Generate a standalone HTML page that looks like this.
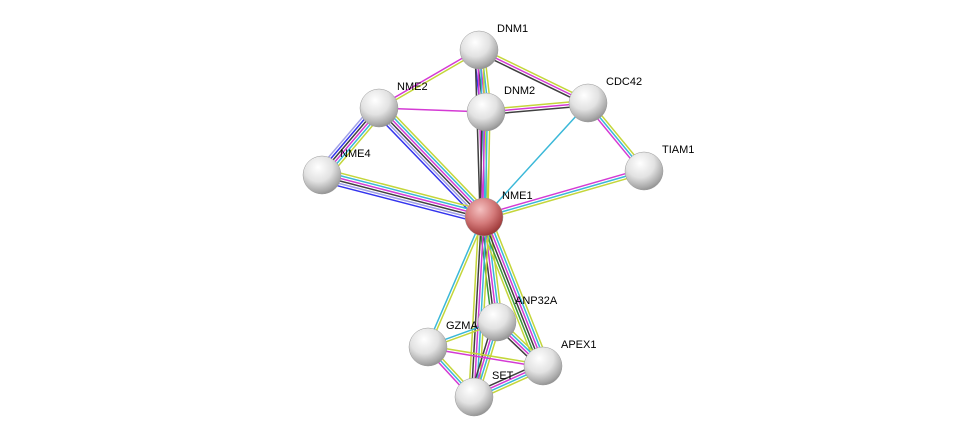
<!DOCTYPE html>
<html><head><meta charset="utf-8"><style>
html,body{margin:0;padding:0;background:#fff;}
svg{display:block;}
text{font-family:"Liberation Sans",sans-serif;font-size:11px;fill:#000;}
</style></head><body>
<svg id="s" width="975" height="443" xmlns="http://www.w3.org/2000/svg">
<defs>
<radialGradient id="g" cx="40%" cy="30%" r="75%">
<stop offset="0" stop-color="#ffffff"/><stop offset="0.5" stop-color="#e2e2e2"/><stop offset="0.85" stop-color="#a8a8a8"/><stop offset="1" stop-color="#888"/>
</radialGradient>
<radialGradient id="r" cx="40%" cy="30%" r="75%">
<stop offset="0" stop-color="#f4c0c0"/><stop offset="0.5" stop-color="#d47a7a"/><stop offset="0.85" stop-color="#a84444"/><stop offset="1" stop-color="#8a3030"/>
</radialGradient>
</defs>
<g id="e"></g><g id="n"></g>
</svg>
<script>
const N={DNM1:[479,50],DNM2:[486,112],CDC42:[588,103],NME2:[379,108],NME4:[322,175],TIAM1:[644,171],NME1:[484,217],ANP32A:[497,322],GZMA:[428,347],APEX1:[543,366],SET:[474,397]};
const Y='#c4d63a',C='#3ab8d8',M='#d43ad4',K='#404040',B='#3333ee',P='#a0a0e8',G='#3a9a3a';
const E=[
['DNM1','DNM2',[Y,C,M,K,B]],['DNM1','CDC42',[Y,M,K]],['DNM1','NME2',[Y,M]],['DNM1','NME1',[Y,C,M,K]],
['DNM2','CDC42',[Y,M,K]],['DNM2','NME2',[M]],['DNM2','NME1',[Y,C,M,K]],
['CDC42','TIAM1',[Y,C,M]],['CDC42','NME1',[C]],['TIAM1','NME1',[Y,C,M]],
['NME2','NME4',[Y,C,M,K,B,P]],['NME2','NME1',[Y,C,M,K,P,B]],['NME4','NME1',[Y,C,M,K,P,B]],
['NME1','ANP32A',[Y,C,M,K,G]],['NME1','GZMA',[Y,C]],['NME1','APEX1',[Y,C,M,K,G,Y]],['NME1','SET',[Y,C,M,K,Y]],
['ANP32A','GZMA',[Y,C]],['ANP32A','APEX1',[Y,C,M,K]],['ANP32A','SET',[Y,C,M,K]],
['GZMA','APEX1',[Y,M]],['GZMA','SET',[Y,C,M]],['APEX1','SET',[Y,C,M,K]]];
const ns='http://www.w3.org/2000/svg',eg=document.getElementById('e'),ng=document.getElementById('n');
for(const [a,b,cs] of E){const[x1,y1]=N[a],[x2,y2]=N[b];const dx=x2-x1,dy=y2-y1,l=Math.hypot(dx,dy),px=-dy/l,py=dx/l;
cs.forEach((c,i)=>{const o=(i-(cs.length-1)/2)*2.6;const ln=document.createElementNS(ns,'line');
ln.setAttribute('x1',x1+px*o);ln.setAttribute('y1',y1+py*o);ln.setAttribute('x2',x2+px*o);ln.setAttribute('y2',y2+py*o);
ln.setAttribute('stroke',c);ln.setAttribute('stroke-width','1.5');eg.appendChild(ln);});}
for(const k in N){const[x,y]=N[k];const c=document.createElementNS(ns,'circle');c.setAttribute('cx',x);c.setAttribute('cy',y);c.setAttribute('r',19);
c.setAttribute('fill',k=='NME1'?'url(#r)':'url(#g)');c.setAttribute('stroke','#999');c.setAttribute('stroke-width','0.5');ng.appendChild(c);
const t=document.createElementNS(ns,'text');t.setAttribute('x',x+18);t.setAttribute('y',y-18);t.textContent=k;ng.appendChild(t);}
</script>
</body></html>
